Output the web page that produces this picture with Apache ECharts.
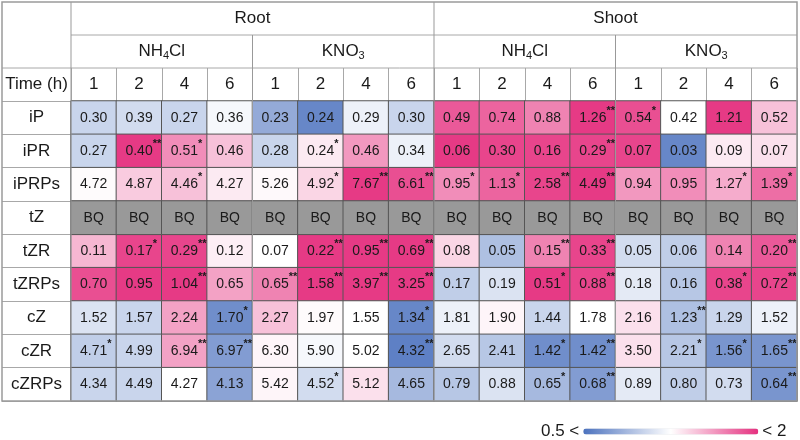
<!DOCTYPE html>
<html><head><meta charset="utf-8">
<script src="https://cdn.jsdelivr.net/npm/echarts@6/dist/echarts.min.js"></script>
<style>html,body{margin:0;padding:0;background:#fff}#c{width:800px;height:440px}</style>
</head><body><div id="c"></div>
<script>
// ---- data ----
const tissues = ['Root', 'Shoot'];
const treatments = ['NH{sub|4}Cl', 'KNO{sub|3}'];
const times = ['1','2','4','6','1','2','4','6','1','2','4','6','1','2','4','6'];
const rowNames = ['iP','iPR','iPRPs','tZ','tZR','tZRPs','cZ','cZR','cZRPs'];

// displayed values
const iP    = ['0.30','0.39','0.27','0.36','0.23','0.24','0.29','0.30','0.49','0.74','0.88','1.26','0.54','0.42','1.21','0.52'];
const iPR   = ['0.27','0.40','0.51','0.46','0.28','0.24','0.46','0.34','0.06','0.30','0.16','0.29','0.07','0.03','0.09','0.07'];
const iPRPs = ['4.72','4.87','4.46','4.27','5.26','4.92','7.67','6.61','0.95','1.13','2.58','4.49','0.94','0.95','1.27','1.39'];
const tZ    = ['BQ','BQ','BQ','BQ','BQ','BQ','BQ','BQ','BQ','BQ','BQ','BQ','BQ','BQ','BQ','BQ'];
const tZR   = ['0.11','0.17','0.29','0.12','0.07','0.22','0.95','0.69','0.08','0.05','0.15','0.33','0.05','0.06','0.14','0.20'];
const tZRPs = ['0.70','0.95','1.04','0.65','0.65','1.58','3.97','3.25','0.17','0.19','0.51','0.88','0.18','0.16','0.38','0.72'];
const cZ    = ['1.52','1.57','2.24','1.70','2.27','1.97','1.55','1.34','1.81','1.90','1.44','1.78','2.16','1.23','1.29','1.52'];
const cZR   = ['4.71','4.99','6.94','6.97','6.30','5.90','5.02','4.32','2.65','2.41','1.42','1.42','3.50','2.21','1.56','1.65'];
const cZRPs = ['4.34','4.49','4.27','4.13','5.42','4.52','5.12','4.65','0.79','0.88','0.65','0.68','0.89','0.80','0.73','0.64'];

// significance marks
const iP_sig    = ['','','','','','','','','','','','**','*','','',''];
const iPR_sig   = ['','**','*','','','*','','','','','','**','','','',''];
const iPRPs_sig = ['','','*','','','*','**','**','*','*','**','**','','','*','*'];
const tZ_sig    = ['','','','','','','','','','','','','','','',''];
const tZR_sig   = ['','*','**','','','**','**','**','','','**','**','','','','**'];
const tZRPs_sig = ['','','**','','**','**','**','**','','','*','**','','','*','**'];
const cZ_sig    = ['','','','*','','','','*','','','','','','**','',''];
const cZR_sig   = ['*','','**','**','','','','**','','','*','**','','*','*','**'];
const cZRPs_sig = ['','','','','','*','','','','','*','**','','','','**'];

// colour level read from the cells: log2 fold change, -1 (0.5) .. +1 (2)
const iP_lvl    = [-0.3,-0.25,-0.3,-0.05,-0.6,-0.85,-0.1,-0.3, 0.8,0.75,0.6,0.95,0.85,0,0.95,0.3];
const iPR_lvl   = [-0.3,0.95,0.55,0.3,-0.3,0.1,0.5,-0.1, 0.95,0.9,0.9,0.9,0.9,-0.85,0.1,0.15];
const iPRPs_lvl = [0.02,0.25,0.3,0.1,0.03,0.2,0.95,0.85, 0.55,0.75,0.9,0.95,0.5,0.55,0.4,0.7];
const tZ_lvl    = [null,null,null,null,null,null,null,null,null,null,null,null,null,null,null,null];
const tZR_lvl   = [0.35,0.9,0.9,0.08,0,0.95,0.95,0.95, 0.2,-0.45,0.6,0.9,-0.25,-0.35,0.6,0.8];
const tZRPs_lvl = [0.85,0.95,0.95,0.45,0.6,0.95,0.95,0.95, -0.35,-0.2,0.95,0.9,-0.15,-0.4,0.9,0.9];
const cZ_lvl    = [-0.2,-0.3,0.45,-0.8,0.3,0.02,0,-0.85, -0.1,0.05,-0.3,0,0.15,-0.45,-0.3,-0.1];
const cZR_lvl   = [-0.35,-0.3,0.45,-0.7,0.05,-0.05,0,-0.9, -0.25,-0.4,-0.8,-0.8,0.15,-0.4,-0.75,-0.75];
const cZRPs_lvl = [-0.3,-0.3,0,-0.65,0.05,-0.25,0.15,-0.5, -0.4,-0.2,-0.5,-0.7,-0.15,-0.35,-0.25,-0.75];

const rowsVal = [iP,iPR,iPRPs,tZ,tZR,tZRPs,cZ,cZR,cZRPs];
const rowsSig = [iP_sig,iPR_sig,iPRPs_sig,tZ_sig,tZR_sig,tZRPs_sig,cZ_sig,cZR_sig,cZRPs_sig];
const rowsLvl = [iP_lvl,iPR_lvl,iPRPs_lvl,tZ_lvl,tZR_lvl,tZRPs_lvl,cZ_lvl,cZR_lvl,cZRPs_lvl];

// ---- layout ----
const FONT = '"Liberation Sans", Arial, Helvetica, sans-serif';
const GL = 71, GT = 101, GW = 726, GH = 300, TOP = 2, LEFT = 2;
const CW = GW / times.length, HR = (GT - TOP) / 3;

const numData = [], bqData = [];
rowsVal.forEach((row, y) => row.forEach((t, x) => {
  const lvl = rowsLvl[y][x];
  const item = { value: [x, y, lvl == null ? 0 : lvl], txt: t, sig: rowsSig[y][x] };
  (lvl == null ? bqData : numData).push(item);
}));

const labelFmt = p => {
  const s = p.data.sig;
  return s ? '{p|' + s + '}{v|' + p.data.txt + '}{s|' + s + '}' : '{v|' + p.data.txt + '}';
};
const cellLabel = {
  show: true, formatter: labelFmt,
  rich: {
    v: { fontSize: 14, color: '#1a1a1a', fontFamily: FONT },
    s: { fontSize: 11, fontWeight: 'bold', color: '#1a1a1a', fontFamily: FONT, padding: [0, 0, 14, 0] },
    p: { fontSize: 11, fontWeight: 'bold', color: 'rgba(0,0,0,0)', fontFamily: FONT, padding: [0, 0, 14, 0] }
  }
};

const graphics = [];
const line = (x1, y1, x2, y2, c, w) => graphics.push({
  type: 'line', z: 100, shape: { x1, y1, x2, y2 }, style: { stroke: c || '#a8a8a8', lineWidth: w || 1 }
});
const text = (x, y, t, size) => graphics.push({
  type: 'text', z: 100, x, y,
  style: { text: t, fontSize: size, fontFamily: FONT, fill: '#1a1a1a', align: 'center', verticalAlign: 'middle',
    rich: { sub: { fontSize: 11, fontFamily: FONT, fill: '#1a1a1a', padding: [9, 0, 0, 0] } } }
});

// header rows
line(GL, TOP + HR, GL + GW, TOP + HR);
line(LEFT, TOP + 2 * HR, GL + GW, TOP + 2 * HR);
line(GL, TOP, GL, GT + GH, '#999');
tissues.forEach((t, i) => {
  const x0 = GL + i * 8 * CW;
  text(x0 + 4 * CW, TOP + HR / 2, t, 17);
  if (i > 0) line(x0, TOP, x0, GT + GH, '#999');
  treatments.forEach((tr, j) => {
    const x1 = x0 + j * 4 * CW;
    text(x1 + 2 * CW, TOP + 1.5 * HR, tr, 17);
    if (j > 0) line(x1, TOP + HR, x1, GT + GH, '#999');
  });
});
text(LEFT + (GL - LEFT) / 2, TOP + 2.5 * HR, 'Time (h)', 17);
graphics.push({ type: 'rect', z: 101, shape: { x: LEFT, y: TOP, width: GL + GW - LEFT, height: GT + GH - TOP },
  style: { fill: 'none', stroke: '#9a9a9a', lineWidth: 1.5 } });

const chart = echarts.init(document.getElementById('c'), null, { renderer: 'canvas' });
chart.setOption({
  backgroundColor: '#fff',
  animation: false,
  grid: { left: GL, top: GT, width: GW, height: GH, containLabel: false, outerBoundsMode: 'none' },
  xAxis: {
    type: 'category', position: 'top', data: times,
    axisLine: { show: true, lineStyle: { color: '#a8a8a8' } },
    axisTick: { show: true, length: HR, interval: 0, lineStyle: { color: '#a8a8a8' } },
    axisLabel: { fontSize: 17, fontFamily: FONT, color: '#1a1a1a', margin: HR / 2, verticalAlign: 'middle', interval: 0 },
    splitLine: { show: false }
  },
  yAxis: {
    type: 'category', inverse: true, data: rowNames,
    axisLine: { show: false },
    axisTick: { show: true, length: GL - LEFT, interval: 0, lineStyle: { color: '#a8a8a8' } },
    axisLabel: { fontSize: 17, fontFamily: FONT, color: '#1a1a1a', align: 'center', margin: (GL - LEFT) / 2, interval: 0 },
    splitLine: { show: false }
  },
  visualMap: {
    type: 'continuous', seriesIndex: 0, min: -1, max: 1, calculable: false,
    orient: 'horizontal', left: 541, bottom: 0, itemWidth: 6, itemHeight: 175, textGap: 4, padding: 0,
    text: ['< 2', '0.5 <'], textStyle: { fontSize: 17, fontFamily: FONT, color: '#1a1a1a' },
    inRange: { color: ['#4c72be', '#ffffff', '#e5307f'] }
  },
  series: [
    { type: 'heatmap', data: numData, label: cellLabel,
      itemStyle: { borderColor: '#555', borderWidth: 1 }, emphasis: { disabled: true } },
    { type: 'heatmap', data: bqData, label: cellLabel,
      itemStyle: { color: '#999999', borderColor: '#555', borderWidth: 1 }, emphasis: { disabled: true } }
  ],
  graphic: graphics
});
</script></body></html>
